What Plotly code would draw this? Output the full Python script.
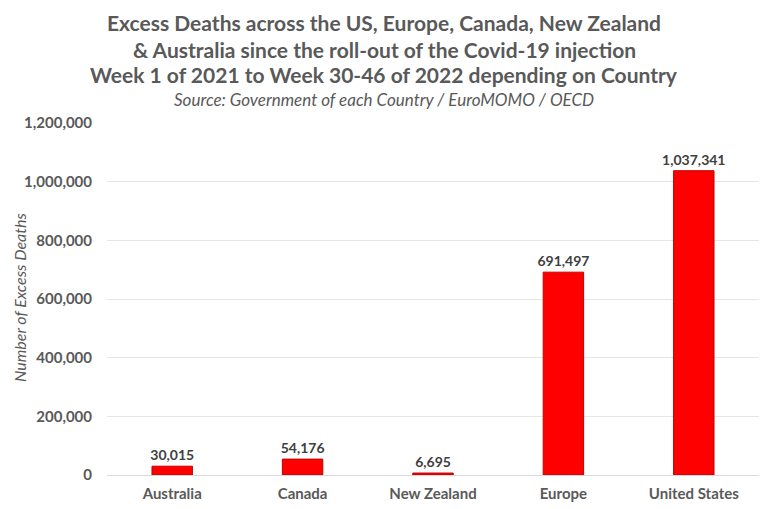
import plotly.graph_objects as go

countries = ["Australia", "Canada", "New Zealand", "Europe", "United States"]
excess_deaths = [30015, 54176, 6695, 691497, 1037341]
y_ticks = [0, 200000, 400000, 600000, 800000, 1000000, 1200000]

title_lines = [
    "Excess Deaths across the US, Europe, Canada, New Zealand",
    "& Australia since the roll-out of the Covid-19 injection",
    "Week 1 of 2021 to Week 30-46 of 2022 depending on Country",
]
subtitle = "Source: Government of each Country / EuroMOMO / OECD"
y_title = "Number of Excess Deaths"

FONT = "Lato"
GREY = "#595959"
OFF = 8  # page body margin
W, H = 768 - OFF, 509 - OFF
L, R, T, B = 107 - OFF, 9, 123 - OFF, 34
PW, PH = W - L - R, H - T - B


def px_x(x):
    return (x - OFF - L) / PW


def px_y(y):
    return (H - B - (y - OFF)) / PH


fig = go.Figure(go.Bar(
    x=countries,
    y=excess_deaths,
    width=0.31,
    marker=dict(color="#FF0000", line=dict(color="#C00000", width=1)),
    text=[f"{v:,}" for v in excess_deaths],
    textposition="outside",
    constraintext="none",
    textfont=dict(family=FONT, size=14, color="#404040", weight="bold"),
    cliponaxis=False,
))

fig.update_layout(
    width=W, height=H,
    margin=dict(l=L, r=R, t=T, b=B),
    paper_bgcolor="white", plot_bgcolor="white",
    showlegend=False,
    font=dict(family=FONT, color=GREY),
)

for i, line in enumerate(title_lines):
    fig.add_annotation(
        text=f"<b>{line}</b>", xref="paper", yref="paper",
        x=px_x(384), y=px_y(23 + 26 * i), yanchor="middle",
        showarrow=False, font=dict(family=FONT, size=21, color=GREY),
    )
fig.add_annotation(
    text=f"<i>{subtitle}</i>", xref="paper", yref="paper",
    x=px_x(384), y=px_y(99), yanchor="middle",
    showarrow=False, font=dict(family=FONT, size=17, color=GREY),
)
fig.add_annotation(
    text=f"<i>{y_title}</i>", xref="paper", yref="paper",
    x=px_x(19), y=px_y(298), xanchor="center", yanchor="middle",
    textangle=-90, showarrow=False,
    font=dict(family=FONT, size=16, color=GREY),
)

fig.update_xaxes(
    showline=False, showgrid=False, ticks="", automargin=False,
    ticklabelstandoff=8,
    tickfont=dict(family=FONT, size=15, color=GREY, weight="bold"),
)
fig.update_yaxes(
    range=[0, 1200000], tickvals=y_ticks, tickformat=",",
    showgrid=True, gridcolor="#E6E6E6", gridwidth=1,
    zeroline=True, zerolinecolor="#D9D9D9", zerolinewidth=1,
    ticks="", ticklabelstandoff=14, automargin=False,
    tickfont=dict(family=FONT, size=15, color=GREY, weight="bold"),
)

fig.write_html("out.html")
